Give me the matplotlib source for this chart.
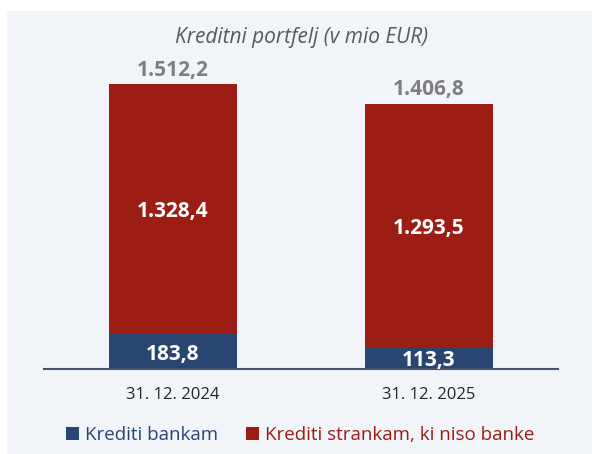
import matplotlib
matplotlib.use("Agg")
import matplotlib.pyplot as plt
from matplotlib.patches import Rectangle

plt.rcParams['font.family'] = ['Open Sans', 'DejaVu Sans']

# ========== data ========== #
CATEGORIES = ["31. 12. 2024", "31. 12. 2025"]
BANKS      = [183.8, 113.3]
NON_BANKS  = [1328.4, 1293.5]
TOTALS     = [1512.2, 1406.8]
LEGEND     = ["Krediti bankam", "Krediti strankam, ki niso banke"]
TITLE      = "Kreditni portfelj (v mio EUR)"

BLUE = "#294571"
RED  = "#9c1d14"
BG   = "#f1f4f8"


def fmt(v):
    s = f"{v:,.1f}"
    return s.replace(",", "X").replace(".", ",").replace("X", ".")


def main():
    W, H = 592, 454
    fig = plt.figure(figsize=(W / 100, H / 100), dpi=100)
    fig.patch.set_facecolor("white")

    # gray panel
    fig.patches.append(Rectangle((7 / W, 0), 1 - 7 / W, 1 - 11 / H,
                                 transform=fig.transFigure, facecolor=BG,
                                 edgecolor="none", zorder=-10))

    ax = fig.add_axes([44 / W, 85 / H, 514 / W, 301.6 / H])
    ax.set_facecolor("none")
    xs = list(range(len(CATEGORIES)))
    width = 0.5

    ax.bar(xs, BANKS, width, color=BLUE, label=LEGEND[0])
    ax.bar(xs, NON_BANKS, width, bottom=BANKS, color=RED, label=LEGEND[1])

    for x, b, n, t in zip(xs, BANKS, NON_BANKS, TOTALS):
        ax.text(x, b / 2, fmt(b), ha="center", va="center_baseline",
                color="white", fontsize=15, fontweight="bold")
        ax.text(x, b + n / 2, fmt(n), ha="center", va="center_baseline",
                color="white", fontsize=15, fontweight="bold")
        ax.annotate(fmt(t), xy=(x, t), xytext=(0, 6), textcoords="offset points",
                    ha="center", va="baseline", color="#7f7f7f",
                    fontsize=15, fontweight="bold")

    ax.set_xlim(-0.504, 1.504)
    ax.set_ylim(0, 1600)
    for s in ["top", "right", "left"]:
        ax.spines[s].set_visible(False)
    ax.spines["bottom"].set_color("#44546a")
    ax.spines["bottom"].set_linewidth(1.5)
    ax.set_yticks([])
    ax.set_xticks(xs)
    ax.set_xticklabels(CATEGORIES, fontsize=12, color="#262626")
    ax.tick_params(axis="x", length=0, pad=13)

    fig.text(302 / W, 1 - 37 / H, TITLE, ha="center", va="center",
             fontsize=15, style="italic", color="#595959")

    leg = fig.legend(loc="center", bbox_to_anchor=(300 / W, 1 - 435 / H),
                     ncol=2, frameon=False, fontsize=13.5, handlelength=0.7,
                     handleheight=0.7, handletextpad=0.3, columnspacing=1.5)
    for txt, col in zip(leg.get_texts(), [BLUE, RED]):
        txt.set_color(col)

    fig.savefig("out.png", dpi=100, facecolor=fig.get_facecolor())


if __name__ == '__main__': main()
